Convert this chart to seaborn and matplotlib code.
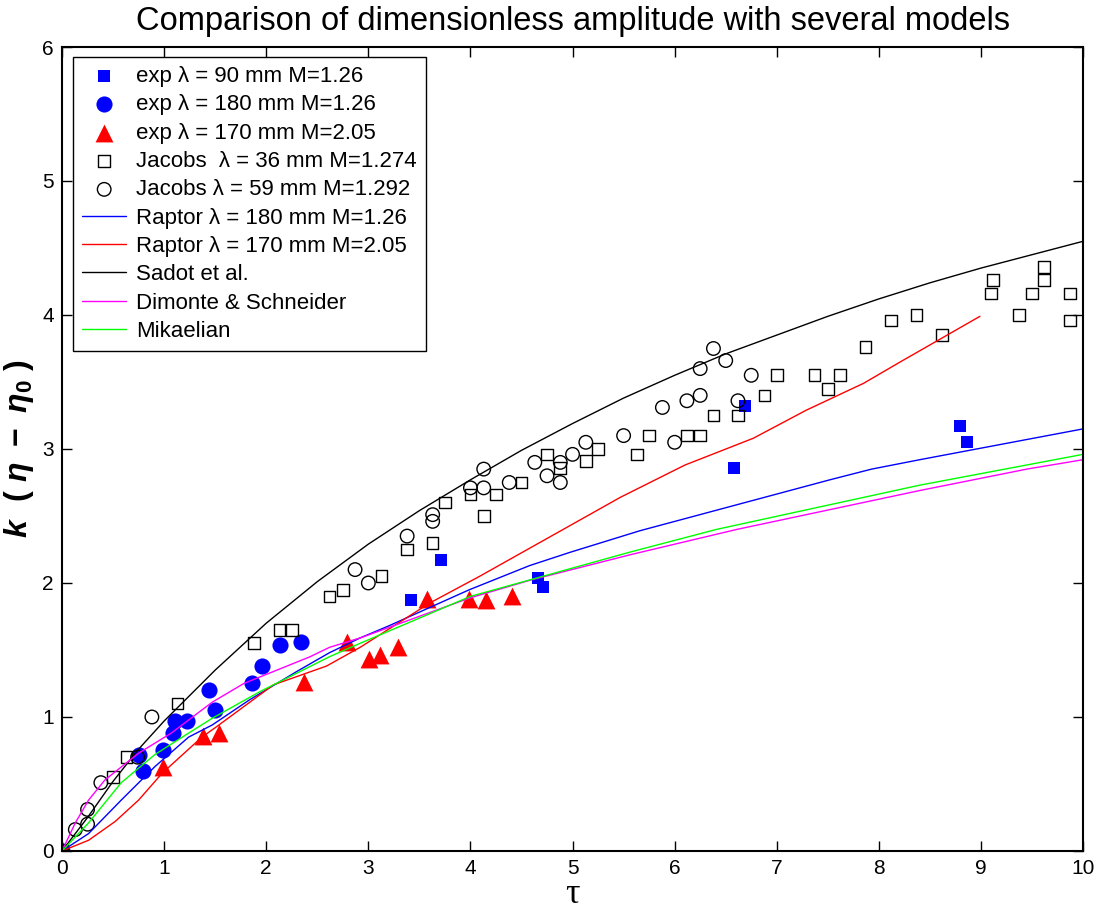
import numpy as np
import matplotlib
matplotlib.use("Agg")
import matplotlib.pyplot as plt
import seaborn as sns

# experimental data
exp90_tau = [0.0, 3.42, 3.71, 4.66, 4.71, 6.58, 6.69, 8.79, 8.86]
exp90_amp = [0.0, 1.87, 2.17, 2.04, 1.97, 2.86, 3.32, 3.17, 3.05]

exp180_tau = [0.0, 0.75, 0.79, 0.99, 1.09, 1.11, 1.22, 1.44, 1.50, 1.86, 1.96, 2.13, 2.34]
exp180_amp = [0.0, 0.72, 0.60, 0.75, 0.88, 0.97, 0.97, 1.20, 1.05, 1.25, 1.38, 1.54, 1.56]

exp170_tau = [0.0, 0.99, 1.38, 1.54, 2.37, 2.79, 3.01, 3.11, 3.29, 3.57, 3.99, 4.15, 4.41]
exp170_amp = [0.0, 0.63, 0.86, 0.88, 1.26, 1.56, 1.43, 1.46, 1.52, 1.88, 1.88, 1.87, 1.90]

# Jacobs data
jac36_tau = [0.0, 0.50, 0.63, 1.13, 1.88, 2.13, 2.25, 2.62, 2.75, 3.13, 3.38, 3.63,
             3.75, 4.00, 4.13, 4.25, 4.50, 4.75, 4.88, 5.13, 5.25, 5.63, 5.75,
             6.12, 6.25, 6.38, 6.62, 6.88, 7.00, 7.37, 7.50, 7.62, 7.87, 8.12,
             8.37, 8.62, 9.10, 9.12, 9.37, 9.50, 9.62, 9.62, 9.87, 9.87]
jac36_amp = [0.0, 0.55, 0.70, 1.10, 1.55, 1.65, 1.65, 1.90, 1.95, 2.05, 2.25, 2.30,
             2.60, 2.66, 2.50, 2.66, 2.75, 2.96, 2.86, 2.91, 3.00, 2.96, 3.10,
             3.10, 3.10, 3.25, 3.25, 3.40, 3.55, 3.55, 3.45, 3.55, 3.76, 3.96,
             4.00, 3.85, 4.16, 4.26, 4.00, 4.16, 4.36, 4.26, 4.16, 3.96]

jac59_tau = [0.0, 0.13, 0.25, 0.25, 0.38, 0.74, 0.88, 2.87, 3.00, 3.38, 3.63, 3.63,
             4.00, 4.13, 4.13, 4.38, 4.63, 4.75, 4.88, 4.88, 5.00, 5.13, 5.50,
             5.88, 6.00, 6.12, 6.25, 6.25, 6.38, 6.50, 6.62, 6.75]
jac59_amp = [0.0, 0.16, 0.20, 0.31, 0.51, 0.70, 1.00, 2.10, 2.00, 2.35, 2.51, 2.46,
             2.71, 2.71, 2.85, 2.75, 2.90, 2.80, 2.90, 2.75, 2.96, 3.05, 3.10,
             3.31, 3.05, 3.36, 3.40, 3.60, 3.75, 3.66, 3.36, 3.55]

# models
raptor180_tau = [0.0, 0.26, 0.58, 0.91, 1.24, 1.47, 1.84, 2.30, 2.62, 2.92, 3.20, 3.99,
                 4.58, 4.98, 5.66, 7.52, 7.93, 8.40, 10.0]
raptor180_amp = [0.0, 0.13, 0.38, 0.63, 0.85, 0.94, 1.13, 1.34, 1.48, 1.59, 1.68, 1.95,
                 2.13, 2.23, 2.39, 2.77, 2.85, 2.92, 3.15]

raptor170_tau = [0.0, 0.26, 0.52, 0.75, 0.98, 1.37, 1.50, 2.07, 2.59, 2.92, 3.60, 4.09,
                 5.47, 6.10, 6.77, 7.29, 7.85, 8.21, 8.99]
raptor170_amp = [0.0, 0.08, 0.22, 0.38, 0.58, 0.85, 0.92, 1.24, 1.38, 1.52, 1.85, 2.05,
                 2.64, 2.88, 3.08, 3.29, 3.49, 3.65, 3.99]

sadot_tau = [0.0, 0.25, 0.5, 0.75, 1.0, 1.25, 1.5, 2.0, 2.5, 3.0, 3.5, 4.0, 4.5, 5.0,
             5.5, 6.0, 6.5, 7.0, 7.5, 8.0, 8.5, 9.0, 9.5, 10.0]
sadot_amp = [0.0, 0.25, 0.52, 0.76, 0.97, 1.16, 1.35, 1.70, 2.01, 2.29, 2.54, 2.77,
             2.99, 3.19, 3.38, 3.55, 3.71, 3.85, 3.99, 4.12, 4.24, 4.35, 4.45, 4.55]

dimonte_tau = [0.0, 0.13, 0.26, 0.42, 0.75, 1.07, 1.47, 1.78, 2.43, 2.62, 2.92, 4.00,
               4.58, 5.56, 6.61, 8.40, 9.45, 10.0]
dimonte_amp = [0.0, 0.21, 0.38, 0.53, 0.73, 0.88, 1.11, 1.25, 1.45, 1.52, 1.59, 1.89,
               2.02, 2.21, 2.40, 2.69, 2.85, 2.92]

mik_tau = [0.0, 0.26, 0.58, 0.91, 1.24, 1.47, 1.94, 2.62, 2.92, 4.00, 5.56, 6.41, 8.40, 10.0]
mik_amp = [0.0, 0.21, 0.51, 0.72, 0.88, 0.99, 1.19, 1.45, 1.55, 1.90, 2.23, 2.40, 2.73, 2.96]

sns.set_theme(style="ticks")
plt.rcParams["font.family"] = ["Liberation Sans", "DejaVu Sans"]
plt.rcParams["text.color"] = "black"
plt.rcParams["axes.labelcolor"] = "black"
plt.rcParams["mathtext.fontset"] = "custom"
plt.rcParams["mathtext.rm"] = "Liberation Sans:bold"
plt.rcParams["mathtext.it"] = "Liberation Sans:bold:italic"
plt.rcParams["mathtext.bf"] = "Liberation Sans:bold"

fig = plt.figure(figsize=(11, 9.18), dpi=100)
ax = fig.add_axes([0.0564, 0.073, 0.9282, 0.8758])

# markers first, the model curves go on top
sns.scatterplot(x=exp90_tau, y=exp90_amp, marker="s", s=70, color="blue",
                linewidth=0, label=r"exp λ = 90 mm M=1.26", ax=ax)
sns.scatterplot(x=exp180_tau, y=exp180_amp, marker="o", s=135, color="blue",
                linewidth=0, label=r"exp λ = 180 mm M=1.26", ax=ax)
sns.scatterplot(x=exp170_tau, y=exp170_amp, marker="^", s=165, color="red",
                linewidth=0, label=r"exp λ = 170 mm M=2.05", ax=ax)
sns.scatterplot(x=jac36_tau, y=jac36_amp, marker="s", s=70, color="black",
                label="Jacobs  λ = 36 mm M=1.274", ax=ax)
ax.collections[-1].set_facecolor("none")
ax.collections[-1].set_edgecolor("black")
ax.collections[-1].set_linewidth(1.0)
sns.scatterplot(x=jac59_tau, y=jac59_amp, marker="o", s=95, color="black",
                label="Jacobs λ = 59 mm M=1.292", ax=ax)
ax.collections[-1].set_facecolor("none")
ax.collections[-1].set_edgecolor("black")
ax.collections[-1].set_linewidth(1.0)

lw = 1.0
sns.lineplot(x=raptor180_tau, y=raptor180_amp, color="blue", lw=lw, sort=False,
             estimator=None, label="Raptor λ = 180 mm M=1.26", ax=ax)
sns.lineplot(x=raptor170_tau, y=raptor170_amp, color="red", lw=lw, sort=False,
             estimator=None, label="Raptor λ = 170 mm M=2.05", ax=ax)
sns.lineplot(x=sadot_tau, y=sadot_amp, color="black", lw=lw, sort=False,
             estimator=None, label="Sadot et al.", ax=ax)
sns.lineplot(x=dimonte_tau, y=dimonte_amp, color="magenta", lw=lw, sort=False,
             estimator=None, label="Dimonte & Schneider", ax=ax)
sns.lineplot(x=mik_tau, y=mik_amp, color="#00ff00", lw=lw, sort=False,
             estimator=None, label="Mikaelian", ax=ax)

ax.set_xlim(0, 10)
ax.set_ylim(0, 6)
ax.set_xticks(np.arange(0, 11, 1))
ax.set_yticks(np.arange(0, 7, 1))
ax.tick_params(direction="in", top=True, right=True, length=7, width=1,
               labelsize=15, colors="black", pad=6)
for sp in ax.spines.values():
    sp.set_color("black")
    sp.set_linewidth(1.5)

ax.set_title("Comparison of dimensionless amplitude with several models",
             fontsize=23.5, pad=12, color="black")
ax.set_xlabel("τ", fontsize=26, family="Liberation Serif", labelpad=0)
ax.set_ylabel(r"$k\ \ (\ \eta\ -\ \eta_{0}\ )$", fontsize=23, labelpad=4)

handles, labels = ax.get_legend_handles_labels()
leg = ax.legend(handles, labels, loc="upper left", bbox_to_anchor=(0.0108, 0.9876),
                borderaxespad=0, fontsize=16, frameon=True, fancybox=False,
                framealpha=1, edgecolor="black", handlelength=2.0,
                handletextpad=0.45, labelspacing=0.33, borderpad=0.4)
leg.get_frame().set_linewidth(1.0)
for t in leg.get_texts():
    t.set_color("black")

fig.savefig("out.png", dpi=100)
